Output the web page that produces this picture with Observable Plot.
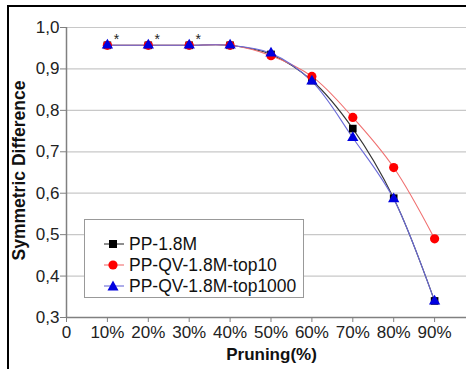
<!DOCTYPE html>
<html><head><meta charset="utf-8">
<script src="https://cdn.jsdelivr.net/npm/d3@7"></script>
<script src="https://cdn.jsdelivr.net/npm/@observablehq/plot@0.6"></script>
<style>
html,body{margin:0;padding:0;background:#fff;}
#wrap{position:relative;width:466px;height:369px;overflow:hidden;font-family:"Liberation Sans",Arial,sans-serif;}
#wrap svg{position:absolute;left:0;top:0;}
.bt{position:absolute;left:7px;top:5px;width:459px;height:2px;background:#000;}
.bl{position:absolute;left:7px;top:5px;width:2px;height:364px;background:#000;}
#legend{position:absolute;left:84px;top:219px;width:220px;height:79px;border:1px solid #999;background:#fff;box-sizing:border-box;}
#legend .row{position:absolute;left:18px;height:20px;display:flex;align-items:center;font-size:17.5px;color:#111;white-space:nowrap;}
#legend svg{position:static;margin-right:4px;}
</style>
</head><body>
<div id="wrap"></div>
<script>
const pruning = [10,20,30,40,50,60,70,80,90];
const seriesNames = ["PP-1.8M","PP-QV-1.8M-top10","PP-QV-1.8M-top1000"];
const pp      = [0.957,0.957,0.957,0.957,0.935,0.872,0.756,0.588,0.340];
const top10   = [0.957,0.957,0.957,0.957,0.932,0.882,0.783,0.662,0.490];
const top1000 = [0.957,0.957,0.957,0.957,0.938,0.870,0.734,0.586,0.339];
const starPoints = [10,20,30];
const xTicks = [0,10,20,30,40,50,60,70,80,90];
const yTicks = [0.3,0.4,0.5,0.6,0.7,0.8,0.9,1.0];
const gridTicks = [0.4,0.5,0.6,0.7,0.8,0.9,1.0];

const styles = [
  {name: seriesNames[0], vals: pp, line:"#333", fill:"#000", symbol:"square", r:4.3},
  {name: seriesNames[1], vals: top10, line:"#f07070", fill:"#f00", symbol:"circle", r:4.6},
  {name: seriesNames[2], vals: top1000, line:"#6a6ad8", fill:"#0000e0", symbol:"triangle", r:4.2}
];
const data = styles.map(s => pruning.map((p,i)=>({x:p, y:s.vals[i], s:s.name})));
const stars = starPoints.map(p => ({x:p, y:top1000[pruning.indexOf(p)]}));

const marks = [
  Plot.gridY(gridTicks, {stroke:"#c8c8c8", strokeOpacity:1, strokeWidth:1.2}),
  Plot.ruleX([0], {stroke:"#808080", strokeWidth:1.5}),
  Plot.ruleY([0.3], {stroke:"#808080", strokeWidth:1.5}),
  Plot.axisY(yTicks, {tickSize:6, tickPadding:1, stroke:"#808080", fontSize:17, fill:"#222",
    tickFormat: d => d.toFixed(1).replace(".", ","), label:null}),
  Plot.axisX(xTicks, {tickSize:5, tickPadding:3, stroke:"#808080", fontSize:17, fill:"#222",
    tickFormat: d => d === 0 ? "0" : d + "%", label:null}),
  Plot.text(["Pruning(%)"], {frameAnchor:"bottom", dy:42, dx:5, fontSize:17, fontWeight:"bold", fill:"#111"}),
  Plot.text(["Symmetric Difference"], {frameAnchor:"left", textAnchor:"middle", dx:-47, dy:-2, rotate:-90, fontSize:17.5, fontWeight:"bold", fill:"#111"})
];
styles.forEach((s,i) => {
  marks.push(Plot.line(data[i], {x:"x", y:"y", stroke:s.line, strokeWidth:1.1, curve:"catmull-rom"}));
});
styles.forEach((s,i) => {
  marks.push(Plot.dot(data[i], {x:"x", y:"y", symbol:s.symbol, r:s.r, fill:s.fill, stroke:"none"}));
});
marks.push(Plot.text(stars, {x:"x", y:"y", text:()=>"*", dx:9, dy:-6, fontSize:14, fill:"#222"}));

const chart = Plot.plot({
  width:466, height:369,
  marginLeft:66, marginRight:0, marginTop:27, marginBottom:52,
  style:{fontFamily:"Liberation Sans, Arial, sans-serif", background:"transparent"},
  x:{domain:[0,97.8]},
  y:{domain:[0.3,1.0]},
  marks
});
const wrap = document.getElementById("wrap");
wrap.appendChild(chart);
const bt = document.createElement("div"); bt.className="bt"; wrap.appendChild(bt);
const bl = document.createElement("div"); bl.className="bl"; wrap.appendChild(bl);

const legend = document.createElement("div"); legend.id="legend";
const shapes = {
  square: c => `<rect x="6" y="6" width="8" height="8" fill="${c}"/>`,
  circle: c => `<circle cx="10" cy="10" r="4.6" fill="${c}"/>`,
  triangle: c => `<path d="M10 4.5 L15.5 14.5 L4.5 14.5 Z" fill="${c}"/>`
};
styles.forEach((s,i) => {
  const row = document.createElement("div"); row.className="row";
  row.style.top = (14 + i*21) + "px";
  row.innerHTML = `<svg width="22" height="20"><line x1="1" x2="21" y1="10" y2="10" stroke="${s.line}" stroke-width="1.1"/>${shapes[s.symbol](s.fill)}</svg><span>${s.name}</span>`;
  legend.appendChild(row);
});
wrap.appendChild(legend);
</script>
</body></html>
